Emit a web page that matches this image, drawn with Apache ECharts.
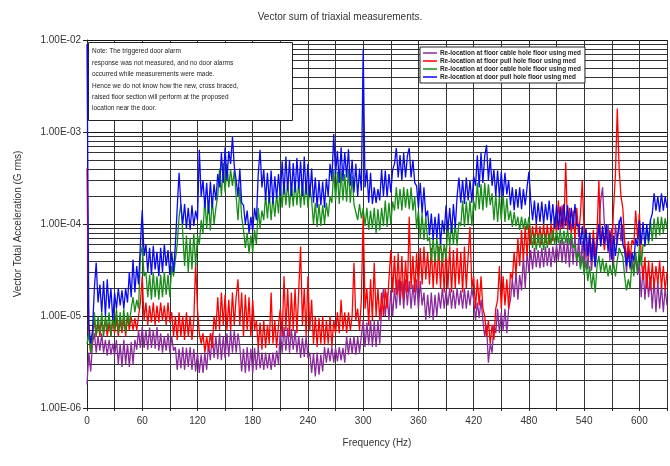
<!DOCTYPE html>
<html><head><meta charset="utf-8">
<script src="https://cdn.jsdelivr.net/npm/echarts@6/dist/echarts.min.js"></script>
<style>html,body{margin:0;padding:0;background:#fff}#c{width:670px;height:466px}</style>
</head><body><div id="c"></div>
<script>
// values in units of 1e-6 G rms, read every 2 Hz from 0 Hz to 630 Hz (one row = 20 Hz)
const UNIT = 1e-6;
const F_STEP = 2;
const X_MAX = 630;
const SERIES_NAMES = [
  'Re-location at floor cable hole floor using med',
  'Re-location at floor pull hole floor using med',
  'Re-location at door cable hole floor using med',
  'Re-location at door pull hole floor using med'
];
const PURPLE = [
1.8,4,2.5,5,6.5,4,6,4.2,6.5,4,
5.5,3.7,5.5,3.8,5,3.7,5.5,3,5,2.8,
5.5,3,5,2.8,5.2,3,5.5,4.3,7,4.5,
7.6,4.5,7,4.3,7.5,4.5,7,4.4,7.6,4.2,
6.5,4,6,4.2,6.5,4,6,4.2,4.6,2.6,
4.4,2.7,4.6,2.6,4.5,2.8,4.6,2.6,4.4,2.5,
4,2.4,3.8,2.4,4,2.6,5,3.3,6.5,3.5,
6,3.4,6.5,3.3,6,3.5,6.5,3.6,7,4,
7,4,6.5,4.6,2.5,4.4,2.4,4.6,2.5,4.4,
2.4,4.5,2.6,4.6,2.7,4,2.6,4,2.7,3.9,
2.6,4,2.8,4.2,3,7,4,7.6,4.2,7.5,
4,7.2,4.3,7,4,6,3.5,5.8,3.6,6,
3.5,4,2.4,3.9,2.2,4,2.3,3.8,2.5,4.6,
3.1,4.5,3.2,4.6,3.1,4.5,3.2,4.6,3.3,4.5,
3.1,6,3.8,5.8,3.9,6,3.8,5.9,4,6,
9,4.6,8.5,4.8,9,4.6,8.8,4.6,9,5,
12,20,10,18,9,19,10,20,12,25,
13,24,12,25,13,24,12,22,13,25,
12,24,13,18,9,17,9.5,18,9,17,
10,18,12,20,12,19,13,20,12,19,
12,20,13,19,12,20,12,19,13,20,
15,9,14,9.5,15,9,6,8,3.1,5,
4,8,6.5,12,6.5,11,7,12,6.5,12,
15,25,16,30,15,28,19,45,20,50,
30,52,32,55,34,52,33,55,34,57,
35,55,34,57,38,60,40,67,38,65,
37,70,34,80,36,75,35,70,34,65,
31,60,32,67,31,55,35,60,90,180,
250,100,70,100,40,90,38,100,60,110,
65,100,55,30,55,32,50,30,45,28,
38,16,35,15,30,16,27,12,25,11,
24,12,22,11,20,13];
const RED = [
400,6,4,6,9,6,8.5,6,9,6.5,
9,6,8.5,6,9,6.5,9.5,6,9,6.5,
9.5,6,10,7,10,7,9.5,7,10,14,
27,9,14,8,13,8.5,14,8,13,8.5,
14,9,13,8,14,8.5,11,6,10,5.5,
11,6,10,5.5,11,6,10,5.5,9,38,
12,6.5,5,6.5,4,6,4.2,6.5,4.5,10,
7,16,7,18,8,17,7,15,7,18,
8,16,25,8,18,6,17,7,16,6,
15,7,9,4.5,8.5,4.3,9,4.5,8,5,
18,5,9,4.5,8,12,6,27,7,20,
6,18,7,20,6.5,19,57,8,20,6,
27,7,15,5,10,4.6,9.5,5,10,4.8,
9,5,10,4.6,9,6.5,11,6.5,15,7,
11,6.5,11,7,10,38,9,12,7,15,
130,12,20,8,25,9,38,10,20,9,
18,10,20,12,25,52,18,45,17,48,
16,45,15,40,18,120,20,45,18,48,
20,55,22,57,25,50,22,55,20,50,
22,57,20,50,18,55,20,57,18,52,
20,55,22,50,18,57,20,45,93,20,
27,12,25,13,27,12,10,6,9,5,
8,5.5,12,15,35,12,27,13,25,12,
30,25,50,28,70,35,86,40,95,45,
100,60,95,60,100,62,95,60,100,62,
98,60,100,65,120,80,180,85,160,90,
470,85,150,75,140,70,150,72,130,300,
80,86,44,80,45,86,44,80,300,60,
86,52,85,55,86,52,150,350,1800,400,
200,150,67,41,65,42,67,60,140,70,
130,44,25,44,20,40,19,38,20,35,
22,40,20,35,19,30];
const GREEN = [
5,6.5,4,6,11,6,10,6.5,11,6,
10,7,11,6,10,7,12,6.5,11,7,
12,6.5,11,8,12,16,11,15,12,45,
57,27,30,16,28,15,30,16,27,15,
28,16,30,17,28,16,35,27,41,60,
120,165,80,35,75,30,70,32,80,35,
75,60,110,80,195,90,180,85,190,100,
150,200,400,200,460,220,450,250,390,260,
380,200,110,250,120,86,55,80,48,75,
50,86,60,150,90,140,110,210,115,215,
110,200,120,210,130,280,150,300,160,290,
150,280,155,300,160,290,150,280,160,300,
150,250,180,100,170,93,165,95,160,100,
170,120,200,170,390,180,370,165,380,180,
350,175,390,170,330,165,160,110,165,115,
150,95,150,86,140,90,150,80,145,85,
150,95,180,93,170,100,175,140,250,145,
240,140,250,150,240,145,250,140,200,90,
140,70,130,67,120,65,72,40,70,38,
72,40,65,38,60,42,100,57,105,60,
100,58,105,95,180,93,175,100,180,95,
180,140,280,145,270,140,280,150,270,160,
215,110,210,105,200,110,215,105,190,110,
140,93,135,95,120,86,120,88,115,86,
120,80,55,80,52,78,55,80,52,78,
55,80,60,86,60,85,62,86,60,85,
62,86,60,80,55,60,40,50,32,45,
28,40,24,35,20,30,18,35,45,30,
42,30,38,27,36,28,38,27,40,55,
57,44,27,19,25,20,40,27,50,30,
57,35,60,57,90,60,110,65,115,70,
120,75,120,80,115,90];
const BLUE = [
9000,8,5,7,20,38,14,22,11,24,
10,25,12,20,9,18,12,20,13,19,
12,20,14,30,16,41,18,35,22,60,
142,45,60,30,55,28,58,32,50,27,
55,30,60,35,52,28,50,30,60,150,
360,160,100,165,90,150,86,160,95,140,
110,640,200,300,150,280,130,290,150,270,
180,350,250,600,280,680,300,620,450,880,
420,300,200,400,170,160,100,140,80,120,
85,150,110,350,640,250,390,180,360,170,
380,165,330,190,350,200,480,210,540,230,
500,200,460,220,520,240,480,200,540,210,
450,195,400,170,320,150,300,160,290,150,
310,200,450,300,950,350,620,280,680,300,
600,320,650,260,500,220,450,200,400,230,
8000,250,390,170,360,165,250,170,240,180,
390,200,380,195,350,220,390,450,670,320,
560,300,590,320,550,670,320,500,280,260,
150,280,130,250,120,140,75,130,67,120,
70,130,60,110,80,160,85,150,80,165,
90,200,320,170,300,165,320,180,300,170,
330,260,560,250,590,280,550,720,300,520,
260,390,200,380,195,370,200,360,210,300,
160,250,140,240,150,250,145,240,160,250,
370,180,110,180,100,170,105,175,100,165,
110,180,100,165,90,160,86,155,90,165,
95,160,86,150,90,165,95,100,60,95,
50,90,45,80,40,70,34,60,100,57,
95,60,100,50,80,41,75,45,70,100,
120,60,52,35,50,34,48,40,70,57,
110,60,105,58,100,65,110,130,215,140,
200,135,215,140,200,150];
const COLORS = ['#8a2a9c', '#ff0000', '#1a8c1a', '#0a0af0'];
const X_TICK_LABEL_STEP = 60;
const Y_TICK_LABELS = {'-6':'1.00E-06','-5':'1.00E-05','-4':'1.00E-04','-3':'1.00E-03','-2':'1.00E-02'};
const MINOR_GRID = [2e-6,3e-6,4e-6,5e-6,6e-6,7e-6,8e-6,9e-6,2e-5,3e-5,4e-5,5e-5,6e-5,7e-5,8e-5,9e-5,2e-4,3e-4,4e-4,5e-4,6e-4,7e-4,8e-4,9e-4,2e-3,3e-3,4e-3,5e-3,6e-3,7e-3,8e-3,9e-3];
const NOTE_LINES = [
  'Note: The triggered door alarm',
  'response was not measured, and no door alarms',
  'occurred while measurements were made.',
  'Hence we do not know how the new, cross braced,',
  'raised floor section will perform at the proposed',
  'location near the door.'
];

const toPairs = arr => arr.map((v, i) => [i * F_STEP, v * UNIT]);
const dataSets = [PURPLE, RED, GREEN, BLUE];

const chart = echarts.init(document.getElementById('c'), null, {renderer: 'canvas'});
const series = [{
  name: 'minor', type: 'custom', silent: true, z: 1, clip: true,
  data: MINOR_GRID.map(v => [0, v]),
  encode: {x: 0, y: 1},
  renderItem: (params, api) => {
    const yv = api.value(1);
    const p1 = api.coord([0, yv]);
    const p2 = api.coord([X_MAX, yv]);
    return {type: 'line', shape: {x1: p1[0], y1: Math.round(p1[1]) + 0.5, x2: p2[0], y2: Math.round(p2[1]) + 0.5},
      style: {stroke: '#333', lineWidth: 1}};
  }
}];
dataSets.forEach((d, k) => series.push({
  name: SERIES_NAMES[k], type: 'line', data: toPairs(d), showSymbol: false, symbol: 'none',
  lineStyle: {color: COLORS[k], width: 1.3}, itemStyle: {color: COLORS[k]}, z: 3 + k
}));

chart.setOption({
  animation: false,
  backgroundColor: '#fff',
  title: {text: 'Vector sum of triaxial measurements.', left: 335, top: 7, textAlign: 'center',
    textStyle: {fontSize: 10, fontWeight: 'normal', color: '#333', fontFamily: 'Liberation Sans'}},
  legend: {
    data: SERIES_NAMES, orient: 'vertical', left: 420, top: 47, itemGap: 2,
    icon: 'rect', itemWidth: 14, itemHeight: 1.5,
    backgroundColor: '#fff', borderColor: '#222', borderWidth: 1, padding: [3, 4, 3, 3],
    textStyle: {fontSize: 6.4, fontWeight: 'bold', color: '#222', fontFamily: 'Liberation Sans', padding: [0,0,0,-2]}
  },
  grid: {left: 87, right: 1, top: 40, bottom: 58},
  xAxis: {
    type: 'value', min: 0, max: X_MAX, interval: 30,
    name: 'Frequency (Hz)', nameLocation: 'middle', nameGap: 30,
    nameTextStyle: {fontSize: 10, color: '#333', fontFamily: 'Liberation Sans'},
    axisLine: {lineStyle: {color: '#222', width: 1}},
    axisTick: {show: true, length: 3, lineStyle: {color: '#222'}},
    axisLabel: {fontSize: 10, color: '#333', fontFamily: 'Liberation Sans', margin: 8,
      formatter: v => (v % X_TICK_LABEL_STEP === 0 ? String(v) : '')},
    splitLine: {show: true, lineStyle: {color: '#333', width: 1}}
  },
  yAxis: {
    type: 'log', logBase: 10, min: 1e-6, max: 1e-2,
    name: 'Vector Total Acceleration (G rms)', nameLocation: 'middle', nameGap: 64,
    nameTextStyle: {fontSize: 10, color: '#333', fontFamily: 'Liberation Sans'},
    axisLine: {show: true, lineStyle: {color: '#222', width: 1}},
    axisTick: {show: true, length: 4, lineStyle: {color: '#222'}},
    axisLabel: {fontSize: 10, color: '#333', fontFamily: 'Liberation Sans', margin: 6,
      formatter: v => Y_TICK_LABELS[String(Math.round(Math.log10(v)))] || ''},
    splitLine: {show: true, lineStyle: {color: '#111', width: 1.2}}
  },
  graphic: [
    {type: 'rect', left: 88, top: 42, z: 100, shape: {width: 204, height: 78},
      style: {fill: '#fff', stroke: '#222', lineWidth: 1}},
    {type: 'text', left: 92, top: 46, z: 101,
      style: {text: NOTE_LINES.join('\n'), fontSize: 6.5, lineHeight: 11.4, fill: '#222',
        fontFamily: 'Liberation Sans'}}
  ],
  series: series
});
</script></body></html>
